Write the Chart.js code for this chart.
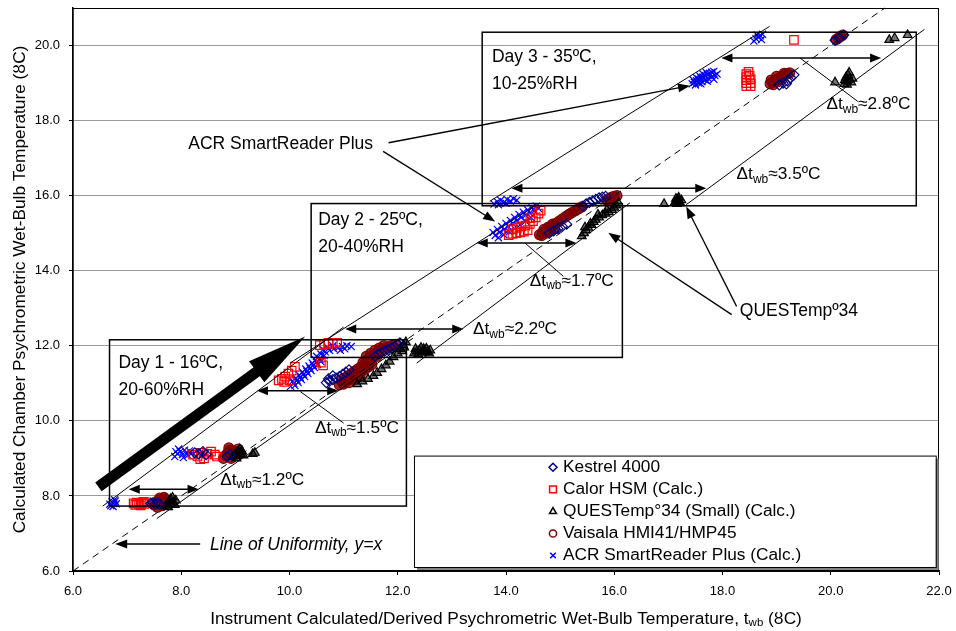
<!DOCTYPE html>
<html><head><meta charset="utf-8">
<script src="https://cdn.jsdelivr.net/npm/chart.js@4.4.1/dist/chart.umd.min.js"></script>
<style>html,body{margin:0;padding:0;background:#fff}#wrap{width:956px;height:631px;position:relative}</style>
</head><body><div id="wrap"><canvas id="c" width="956" height="631"></canvas></div>
<script>
// ---------- tick labels ----------
const xTicks = [6, 8, 10, 12, 14, 16, 18, 20, 22];
const yTicks = [6, 8, 10, 12, 14, 16, 18, 20];
const seriesNames = ['Kestrel 4000', 'Calor HSM (Calc.)', 'QUESTemp°34 (Small) (Calc.)', 'Vaisala HMI41/HMP45', 'ACR SmartReader Plus (Calc.)'];

// ---------- series values [x, y] ----------
const kestrel = [
 [7.44,7.80],[7.48,7.82],[7.52,7.79],[7.56,7.81],[7.60,7.78],
 [8.25,9.15],[8.32,9.12],[8.40,9.18],[8.46,9.10],[8.85,9.05],[8.90,9.10],
 [10.68,11.02],[10.74,11.06],[10.80,11.10],[10.86,11.14],[10.92,11.18],[10.98,11.24],[11.04,11.30],[11.10,11.36],[10.72,11.12],[10.80,11.20],
 [11.58,11.72],[11.64,11.78],[11.70,11.82],[11.76,11.86],[11.82,11.90],[11.88,11.94],[11.94,11.98],[12.00,12.04],[12.04,12.08],
 [14.80,15.00],[14.88,15.06],[14.96,15.12],[15.04,15.18],[15.12,15.24],
 [15.42,15.72],[15.48,15.78],[15.54,15.82],[15.60,15.86],[15.66,15.90],[15.72,15.94],[15.78,15.96],[15.84,15.98],
 [19.05,18.95],[19.12,19.00],[19.20,19.06],[19.26,19.14],[19.32,19.22],[19.18,18.98],
 [20.08,20.14],[20.16,20.20],[20.24,20.28]
];
const calor = [
 [7.12,7.80],[7.18,7.82],[7.22,7.78],[7.27,7.81],[7.32,7.79],[7.36,7.83],[7.15,7.76],[7.30,7.84],[7.25,7.75],
 [8.22,9.10],[8.30,9.05],[8.36,9.15],[8.42,9.00],[8.48,9.12],[8.55,9.18],[8.62,9.10],[8.35,8.98],[8.66,9.05],
 [9.80,11.08],[9.86,11.12],[9.92,11.18],[9.98,11.26],[10.04,11.34],[10.10,11.44],[9.90,11.04],[10.00,11.08],[10.58,11.55],[10.62,11.48],
 [10.56,12.02],[10.64,12.05],[10.72,12.08],[10.80,12.06],[10.88,12.08],
 [14.05,14.95],[14.12,14.98],[14.19,15.00],[14.26,15.02],[14.33,15.04],[14.40,15.08],[14.12,15.10],[14.20,15.14],[14.28,15.18],[14.36,15.20],[14.44,15.25],[14.50,15.32],[14.55,15.42],[14.60,15.52],[14.64,15.60],[14.45,15.40],
 [18.44,18.92],[18.44,19.00],[18.44,19.08],[18.44,19.16],[18.44,19.24],[18.52,18.92],[18.52,19.00],[18.52,19.10],[18.50,19.20],[18.48,19.30],
 [19.32,20.15]
];
const quest = [
 [7.72,7.74],[7.75,7.80],[7.78,7.86],[7.82,7.78],[7.85,7.84],[7.88,7.76],[7.80,7.92],[7.76,7.70],[7.84,7.96],[7.90,7.88],
 [8.95,9.05],[9.00,9.12],[9.05,9.18],[9.10,9.10],[9.02,9.00],[9.12,9.20],[9.08,9.25],[9.15,9.08],[9.32,9.12],[9.36,9.15],
 [11.25,10.98],[11.35,11.05],[11.45,11.12],[11.55,11.20],[11.62,11.28],[11.70,11.38],[11.78,11.48],[11.85,11.58],[11.92,11.70],[12.00,11.80],[12.05,11.92],[12.10,12.02],[12.15,12.10],[12.08,11.86],[12.12,11.96],
 [12.30,11.80],[12.35,11.85],[12.40,11.88],[12.45,11.82],[12.50,11.86],[12.55,11.84],[12.60,11.88],[12.38,11.78],[12.48,11.92],[12.58,11.80],[12.33,11.92],[12.43,11.95],[12.53,11.93],
 [15.40,14.92],[15.44,15.00],[15.48,15.08],[15.52,15.15],[15.58,15.22],[15.62,15.30],[15.66,15.36],[15.72,15.42],[15.78,15.48],[15.84,15.52],[15.90,15.56],[15.96,15.62],[16.00,15.68],[16.04,15.74],[16.08,15.80],[15.46,15.16],[15.56,15.26],[15.70,15.50],[15.86,15.62],
 [16.92,15.78],[17.12,15.82],[17.15,15.86],[17.18,15.90],[17.20,15.84],[17.22,15.80],[17.16,15.78],[17.24,15.88],[17.19,15.95],[17.14,15.92],
 [20.08,19.02],[20.25,18.98],[20.30,19.05],[20.35,19.10],[20.28,19.15],[20.38,19.02],[20.32,19.22],[20.26,19.08],[20.40,19.12],[20.34,19.28],[20.30,18.96],
 [21.08,20.15],[21.18,20.20],[21.42,20.28]
];
const vaisala = [
 [7.50,7.76],[7.54,7.82],[7.58,7.88],[7.62,7.80],[7.66,7.86],[7.70,7.92],[7.56,7.70],[7.64,7.74],[7.68,7.96],[7.60,7.94],[7.72,7.82],
 [8.78,9.00],[8.82,9.08],[8.86,9.15],[8.90,9.22],[8.95,9.10],[9.00,9.18],[9.05,9.25],[8.92,9.00],[9.08,9.12],[8.88,9.28],
 [10.92,10.96],[10.98,11.00],[11.04,11.05],[11.10,11.10],[11.16,11.15],[11.22,11.20],[11.28,11.26],[11.34,11.32],[11.40,11.38],[11.46,11.44],[11.52,11.50],
 [10.96,11.10],[11.02,11.14],[11.08,11.20],[11.14,11.26],[11.20,11.32],[11.26,11.38],[11.32,11.44],[11.38,11.50],
 [11.00,10.98],[11.10,11.02],[11.20,11.10],[11.30,11.18],
 [11.36,11.56],[11.42,11.62],[11.48,11.68],[11.54,11.74],[11.60,11.80],[11.66,11.85],[11.72,11.90],[11.78,11.94],[11.84,11.98],[11.90,12.01],[11.96,12.04],
 [11.42,11.72],[11.50,11.80],[11.58,11.88],[11.66,11.94],[11.74,12.00],[11.50,11.62],[11.62,11.72],
 [14.62,14.96],[14.68,15.02],[14.74,15.08],[14.80,15.14],[14.86,15.20],[14.92,15.26],[14.98,15.32],[15.04,15.38],[15.10,15.44],[15.16,15.50],[15.22,15.55],[15.28,15.60],[15.34,15.65],[15.40,15.70],
 [14.66,14.94],[14.74,15.00],[14.82,15.06],[14.90,15.12],[14.70,15.10],[14.78,15.16],[14.86,15.24],
 [15.86,15.88],[15.90,15.92],[15.95,15.96],[16.00,15.98],[16.05,16.00],[15.92,15.86],
 [18.88,18.98],[18.92,19.02],[18.96,19.06],[19.00,19.10],[19.04,19.13],[19.08,19.16],[19.12,19.19],[19.16,19.22],[19.20,19.25],[19.24,19.27],[18.94,18.96],[19.02,19.04],[19.10,19.10],[18.90,19.08],[19.00,19.18],[19.14,19.26],
 [20.10,20.16],[20.14,20.20],[20.18,20.24],[20.22,20.28]
];
const acr = [
 [6.68,7.78],[6.72,7.84],[6.75,7.80],[6.78,7.86],[6.70,7.74],[6.80,7.79],[6.74,7.72],[6.77,7.90],
 [7.88,9.05],[7.93,9.12],[7.98,9.18],[8.02,9.10],[8.06,9.22],[8.10,9.15],[8.15,9.20],[7.95,9.25],[8.04,9.02],[8.12,9.08],[7.90,9.18],[8.18,9.12],[8.40,9.15],[8.45,9.12],
 [10.02,10.92],[10.08,11.00],[10.14,11.08],[10.20,11.16],[10.26,11.24],[10.32,11.32],[10.38,11.40],[10.44,11.48],[10.50,11.56],[10.56,11.64],
 [10.10,10.94],[10.16,11.02],[10.22,11.10],[10.28,11.18],[10.34,11.26],[10.40,11.34],[10.46,11.42],[10.52,11.50],[10.58,11.58],
 [10.06,11.06],[10.12,11.14],[10.18,11.22],[10.24,11.30],[10.30,11.38],[10.36,11.46],[10.42,11.54],[10.48,11.62],
 [10.50,11.72],[10.58,11.78],[10.66,11.84],[10.74,11.88],[10.82,11.92],[10.90,11.95],[10.98,11.98],[11.06,12.00],[11.14,11.98],[10.62,11.90],[10.70,11.96],[10.80,12.00],[10.94,11.88],[11.02,11.92],[10.56,11.66],[10.64,11.74],
 [13.78,15.78],[13.84,15.84],[13.90,15.88],[13.96,15.82],[14.02,15.90],[14.08,15.86],[14.14,15.92],[14.20,15.88],[13.86,15.76],[14.00,15.80],
 [13.76,15.02],[13.84,15.10],[13.92,15.18],[14.00,15.26],[14.08,15.34],[14.16,15.42],[14.24,15.50],[14.32,15.56],[14.40,15.62],[14.48,15.68],[14.56,15.72],
 [13.80,14.94],[13.88,15.02],[13.96,15.10],[14.04,15.18],[14.12,15.26],[14.20,15.34],[14.28,15.42],[14.36,15.48],[14.44,15.54],[14.52,15.60],[14.60,15.66],
 [13.86,14.88],[13.96,14.96],[14.06,15.04],[14.16,15.12],[14.26,15.22],[14.36,15.32],[14.46,15.42],
 [17.44,18.98],[17.48,19.02],[17.52,19.06],[17.56,19.10],[17.60,19.13],[17.64,19.16],[17.68,19.20],[17.72,19.23],[17.76,19.26],[17.80,19.29],[17.84,19.31],
 [17.50,18.95],[17.56,19.00],[17.62,19.04],[17.68,19.08],[17.74,19.12],[17.80,19.16],[17.86,19.20],[17.46,19.08],[17.52,19.14],[17.58,19.19],[17.64,19.24],[17.70,19.28],[17.60,18.98],[17.72,19.05],[17.84,19.10],[17.90,19.24],
 [18.58,20.12],[18.62,20.18],[18.66,20.22],[18.70,20.26],[18.74,20.30],[18.64,20.28],[18.72,20.16]
];

// ---------- annotations (data units) ----------
const dayBoxes = [[6.675,12.16,12.16,7.73],[10.40,15.79,16.15,11.69],[13.56,20.355,21.58,15.73]];
const boundLines = [[6.55,7.73,11.00,12.50],[7.55,7.40,12.28,12.20],[10.01,11.54,14.57,15.76],[12.35,11.54,16.29,15.81],[13.70,15.85,18.87,20.51],[17.33,15.76,21.73,20.43]];
const uniformityLine = [6, 6, 21, 21];
const deltaArrows = [[7.03,8.32,8.18],[9.40,10.90,10.80],[11.03,13.21,12.45],[13.46,15.30,14.74],[14.10,17.70,16.20],[17.98,20.93,19.67]];
const deltaValues = ['1.2','1.5','2.2','1.7','3.5','2.8'];
const deltaLabelPos = [[8.72,8.43],[10.47,9.81],[13.39,12.43],[14.44,13.73],[18.26,16.56],[19.92,18.43]];
const deltaLinks = [[10.20,10.78,11.00,9.94],[14.35,14.74,15.06,13.85],[19.43,19.67,20.50,18.51]];
const callouts = [[11.83,17.41,17.40,18.93],[11.73,17.18,13.80,15.31],[18.17,12.83,15.89,15.01],[18.26,13.05,17.33,15.71],[8.35,6.72,6.78,6.72]];
const calloutText = [['ACR SmartReader Plus',8.13,17.36,false],['QUESTempº34',18.32,12.91,false],['Line of Uniformity, y=x',8.53,6.69,true]];
const dayText = [['Day 1 - 16ºC,','20-60%RH',6.84,11.55,10.83],['Day 2 - 25ºC,','20-40%RH',10.53,15.36,14.64],['Day 3 - 35ºC,','10-25%RH',13.74,19.68,18.96]];
const bigArrow = [6.47,8.24,10.29,12.25];
const legendBox = [12.30,9.075,21.94,6.107];

const FONT = '"Liberation Sans", Arial, sans-serif';
const styles = [
 {ps:'rectRot', r:5, c:'#000080', bg:'rgba(0,0,128,0)'},
 {ps:'rect', r:6, c:'#ff0000', bg:'rgba(255,0,0,0)'},
 {ps:'triangle', r:5, c:'#000000', bg:'rgba(0,0,0,0.55)'},
 {ps:'circle', r:5, c:'#800000', bg:'rgba(128,0,0,0.8)'},
 {ps:'crossRot', r:5, c:'#0000ff', bg:'rgba(0,0,255,0)'}
];
const seriesData = [kestrel, calor, quest, vaisala, acr];

function arrowHead(ctx, x1, y1, x2, y2, len, hw) {
  const a = Math.atan2(y2 - y1, x2 - x1);
  ctx.beginPath();
  ctx.moveTo(x2, y2);
  ctx.lineTo(x2 - len*Math.cos(a) + hw*Math.sin(a), y2 - len*Math.sin(a) - hw*Math.cos(a));
  ctx.lineTo(x2 - len*Math.cos(a) - hw*Math.sin(a), y2 - len*Math.sin(a) + hw*Math.cos(a));
  ctx.closePath();
  ctx.fill();
}
function line(ctx, x1, y1, x2, y2) { ctx.beginPath(); ctx.moveTo(x1,y1); ctx.lineTo(x2,y2); ctx.stroke(); }
function rich(ctx, parts, x, y) {
  let cx = x;
  for (const p of parts) {
    ctx.font = (p.it ? 'italic ' : '') + p.s + 'px ' + FONT;
    ctx.fillText(p.t, cx, y + (p.dy || 0));
    cx += ctx.measureText(p.t).width;
  }
  return cx - x;
}
function richWidth(ctx, parts) {
  let w = 0;
  for (const p of parts) { ctx.font = (p.it ? 'italic ' : '') + p.s + 'px ' + FONT; w += ctx.measureText(p.t).width; }
  return w;
}

const annot = {
  id: 'annot',
  afterDatasetsDraw(chart) {
    const ctx = chart.ctx, xs = chart.scales.x, ys = chart.scales.y, A = chart.chartArea;
    const X = v => xs.getPixelForValue(v), Y = v => ys.getPixelForValue(v);
    ctx.save();
    ctx.fillStyle = '#000'; ctx.strokeStyle = '#000';
    ctx.lineWidth = 1; ctx.strokeRect(A.left, A.top + 0.5, A.right - A.left - 0.5, A.bottom - A.top);
    ctx.save(); ctx.setLineDash([7, 5]); ctx.lineWidth = 1;
    line(ctx, X(uniformityLine[0]), Y(uniformityLine[1]), X(uniformityLine[2]), Y(uniformityLine[3]));
    ctx.restore();
    ctx.lineWidth = 1;
    for (const l of boundLines) line(ctx, X(l[0]), Y(l[1]), X(l[2]), Y(l[3]));
    ctx.lineWidth = 1.5;
    for (const b of dayBoxes) ctx.strokeRect(X(b[0]), Y(b[1]), X(b[2]) - X(b[0]), Y(b[3]) - Y(b[1]));
    ctx.lineWidth = 1.5;
    for (const d of deltaArrows) {
      const x1 = X(d[0]), x2 = X(d[1]), y = Y(d[2]);
      line(ctx, x1 + 6, y, x2 - 6, y);
      arrowHead(ctx, x2, y, x1, y, 11, 4.5);
      arrowHead(ctx, x1, y, x2, y, 11, 4.5);
    }
    ctx.lineWidth = 1;
    for (const l of deltaLinks) line(ctx, X(l[0]), Y(l[1]), X(l[2]), Y(l[3]));
    ctx.lineWidth = 1.3;
    for (const c of callouts) {
      const x1 = X(c[0]), y1 = Y(c[1]), x2 = X(c[2]), y2 = Y(c[3]);
      const a = Math.atan2(y2 - y1, x2 - x1);
      line(ctx, x1, y1, x2 - 8*Math.cos(a), y2 - 8*Math.sin(a));
      arrowHead(ctx, x1, y1, x2, y2, 12, 4.5);
    }
    {
      const x1 = X(bigArrow[0]), y1 = Y(bigArrow[1]), x2 = X(bigArrow[2]), y2 = Y(bigArrow[3]);
      const a = Math.atan2(y2 - y1, x2 - x1);
      ctx.lineWidth = 11; ctx.lineCap = 'butt';
      line(ctx, x1, y1, x2 - 50*Math.cos(a), y2 - 50*Math.sin(a));
      arrowHead(ctx, x1, y1, x2, y2, 60, 13);
    }
    ctx.textBaseline = 'middle'; ctx.textAlign = 'left';
    deltaLabelPos.forEach((p, i) => {
      rich(ctx, [{t:'Δt', s:17.3}, {t:'wb', s:12, dy:5}, {t:'≈' + deltaValues[i] + 'ºC', s:17.3}], X(p[0]), Y(p[1]));
    });
    for (const t of calloutText) { rich(ctx, [{t:t[0], s:17.5, it:t[3]}], X(t[1]), Y(t[2])); }
    for (const t of dayText) {
      rich(ctx, [{t:t[0], s:17.5}], X(t[2]), Y(t[3]));
      rich(ctx, [{t:t[1], s:17.5}], X(t[2]), Y(t[4]));
    }
    const lx1 = X(legendBox[0]), ly1 = Y(legendBox[1]), lx2 = X(legendBox[2]), ly2 = Y(legendBox[3]);
    ctx.fillStyle = '#808080'; ctx.fillRect(lx1 + 3, ly1 + 3, lx2 - lx1, ly2 - ly1);
    ctx.fillStyle = '#fff'; ctx.fillRect(lx1, ly1, lx2 - lx1, ly2 - ly1);
    ctx.lineWidth = 1; ctx.strokeStyle = '#000'; ctx.strokeRect(lx1 + 0.5, ly1 + 0.5, lx2 - lx1, ly2 - ly1);
    const rowY = [467.3, 489.3, 511.5, 533.5, 555.5];
    const legR = [4, 4.8, 4, 3.6, 4];
    seriesNames.forEach((n, i) => {
      const st = styles[i];
      ctx.strokeStyle = st.c; ctx.fillStyle = 'rgba(0,0,0,0)'; ctx.lineWidth = 1.5;
      Chart.helpers.drawPoint(ctx, {pointStyle: st.ps, radius: legR[i], rotation: 0, borderWidth: 1.5}, 553, rowY[i]);
      ctx.fillStyle = '#000';
      rich(ctx, [{t:n, s:17.3}], 563, rowY[i]);
    });
    ctx.restore();
  },
  afterDraw(chart) {
    const ctx = chart.ctx, A = chart.chartArea;
    ctx.save(); ctx.fillStyle = '#000'; ctx.textBaseline = 'middle';
    const xt = [{t:'Instrument Calculated/Derived Psychrometric Wet-Bulb Temperature, t', s:17.3}, {t:'wb', s:11.5, dy:4}, {t:' (ȣC)', s:17.3}];
    const w = richWidth(ctx, xt);
    rich(ctx, xt, (A.left + A.right)/2 - w/2, 619);
    ctx.translate(20, (A.top + A.bottom)/2); ctx.rotate(-Math.PI/2);
    const yt = [{t:'Calculated Chamber Psychrometric Wet-Bulb Temperature (ȣC)', s:17.3}];
    const w2 = richWidth(ctx, yt);
    rich(ctx, yt, -w2/2, 0);
    ctx.restore();
  }
};

new Chart(document.getElementById('c'), {
  type: 'scatter',
  data: {
    datasets: seriesData.map((d, i) => ({
      label: seriesNames[i],
      data: d.map(p => ({x: p[0], y: p[1]})),
      pointStyle: styles[i].ps, pointRadius: styles[i].r,
      borderColor: styles[i].c, backgroundColor: styles[i].bg,
      pointBorderWidth: 1.2, showLine: false
    }))
  },
  options: {
    responsive: false, animation: false, events: [],
    devicePixelRatio: 1,
    layout: {padding: {left: 0, right: 17, top: 8, bottom: 0}},
    plugins: {legend: {display: false}, tooltip: {enabled: false}},
    scales: {
      x: {
        type: 'linear', min: 6, max: 22,
        afterBuildTicks: s => { s.ticks = xTicks.map(v => ({value: v})); },
        afterFit: s => { s.height = 60; s.paddingLeft = 0; s.paddingRight = 0; },
        ticks: {callback: v => Number(v).toFixed(1), color: '#000', font: {size: 13, family: FONT}, padding: 9, maxRotation: 0, autoSkip: false},
        grid: {drawOnChartArea: false, tickLength: 4, tickColor: '#000'},
        border: {color: '#000', width: 1.5}
      },
      y: {
        type: 'linear', min: 6, max: 21,
        afterBuildTicks: s => { s.ticks = yTicks.map(v => ({value: v})); },
        afterFit: s => { s.width = 73; s.paddingTop = 0; s.paddingBottom = 0; },
        ticks: {callback: v => Number(v).toFixed(1), color: '#000', font: {size: 13, family: FONT}, padding: 9, autoSkip: false},
        grid: {color: '#9a9a9a', lineWidth: 1, tickLength: 4, tickColor: '#000'},
        border: {color: '#000', width: 1.5}
      }
    }
  },
  plugins: [annot]
});
</script></body></html>
